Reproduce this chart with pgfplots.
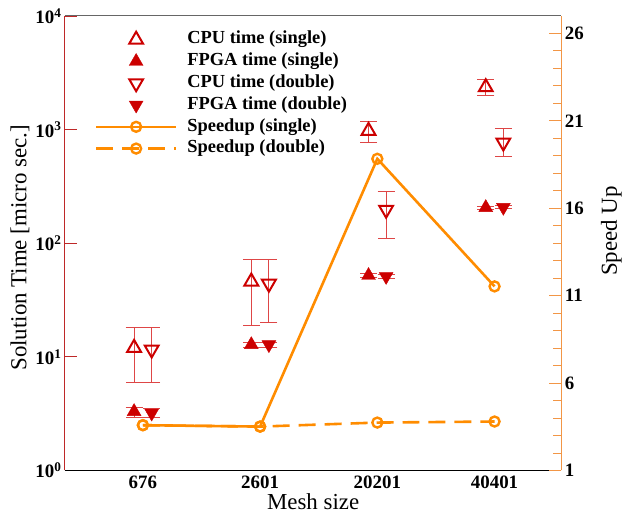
\documentclass[border=0pt]{standalone}
\usepackage{fontspec}
\setmainfont{Liberation Serif}
\usepackage{pgfplots}
\usepackage{pgfplotstable}
\pgfplotsset{compat=1.18}
\definecolor{cred}{RGB}{204,0,0}
\definecolor{corange}{RGB}{255,140,0}
\definecolor{cerr}{RGB}{222,70,70}
\definecolor{laxis}{RGB}{190,40,40}
\definecolor{raxis}{RGB}{242,150,70}

\pgfplotstableread{
x y ep em
-0.075 12 6 6
0.925 46 26 27
1.925 975 200 210
2.925 2360 415 380
}\cpus
\pgfplotstableread{
x y ep em
0.075 11.6 6.4 5.6
1.075 44 28 24
2.075 197 88 87
3.075 770 260 190
}\cpud
\pgfplotstableread{
x y ep em
-0.075 3.3 0.3 0.35
0.925 12.8 0.6 0.6
1.925 52 2 2
2.925 206 6 6
}\fpgas
\pgfplotstableread{
x y ep em
0.075 3.2 0.3 0.3
1.075 12.8 0.6 0.6
2.075 51 2 2
3.075 207 6 6
}\fpgad
\pgfplotstableread{
x y
0 3.59
1 3.51
2 18.83
3 11.53
}\spds
\pgfplotstableread{
x y
0 3.59
1 3.51
2 3.74
3 3.80
}\spdd

\pgfplotsset{
  common/.style={
    scale only axis, width=497bp, height=455bp,
    xmin=-0.665, xmax=3.57,
    tick label style={font=\bfseries\fontsize{19}{19}\selectfont, text=black},
    /pgf/number format/assume math mode=true,
    label style={font=\fontsize{23}{23}\selectfont},
    legend image code/.code={\draw[mark repeat=2,mark phase=2,#1] plot coordinates {(0bp,0bp) (40bp,0bp) (80bp,0bp)};},
  },
  errs/.style={
    error bars/.cd, y dir=both, y explicit,
    error bar style={cerr, line width=0.9bp, solid},
    error mark options={rotate=90, mark size=8.5bp, cerr, line width=0.9bp, solid},
  },
}

\begin{document}
\begin{tikzpicture}
\begin{axis}[common, name=main,
  ymode=log, ymin=1, ymax=10000, log basis y=10,
  axis x line*=bottom, axis y line*=left,
  x axis line style={black, line width=1bp},
  y axis line style={laxis, line width=1bp},
  xtick={0,1,2,3}, xticklabels={676,2601,20201,40401},
  x tick style={draw=none},
  x tick label style={yshift=-2bp},
  ytick={1,10,100,1000,10000},
  yticklabels={10\textsuperscript{0},10\textsuperscript{1},10\textsuperscript{2},10\textsuperscript{3},10\textsuperscript{4}},
  y tick style={laxis, line width=0.9bp},
  major tick length=12bp, minor tick length=7bp,
  tick align=inside,
  xlabel={Mesh size},
  xlabel style={at={(axis description cs:0.5,-0.068)}, anchor=center},
  ylabel={Solution Time [micro sec.]},
  ylabel style={at={(axis description cs:-0.0905,0.49)}, anchor=center},
  clip=false,
]
\addplot[only marks, mark=triangle, mark size=8bp, mark options={cred, line width=2bp}, errs]
  table[x=x, y=y, y error plus=ep, y error minus=em] {\cpus};
\addplot[only marks, mark=triangle*, mark size=8bp, mark options={cred, fill=cred, line width=0.4bp}, errs]
  table[x=x, y=y, y error plus=ep, y error minus=em] {\fpgas};
\addplot[only marks, mark=triangle, mark size=8bp, mark options={cred, line width=2bp, rotate=180}, errs]
  table[x=x, y=y, y error plus=ep, y error minus=em] {\cpud};
\addplot[only marks, mark=triangle*, mark size=8bp, mark options={cred, fill=cred, line width=0.4bp, rotate=180}, errs]
  table[x=x, y=y, y error plus=ep, y error minus=em] {\fpgad};
\end{axis}
\begin{axis}[common,
  ymin=1, ymax=27,
  axis x line*=top, axis y line*=right,
  x axis line style={black!60, line width=1bp},
  y axis line style={raxis, line width=1bp},
  xtick=\empty,
  ytick={1,6,11,16,21,26},
  minor y tick num=4,
  y tick style={raxis, line width=0.9bp},
  major tick length=12bp, minor tick length=8bp,
  tick align=inside,
  ylabel={Speed Up},
  ylabel style={at={(axis description cs:1.1006,0.527)}, anchor=center},
  legend style={draw=none, fill=none, at={(axis description cs:0,1)}, anchor=north west,
    xshift=30bp, yshift=-15bp, inner sep=0pt, outer sep=0pt,
    row sep=4.3bp, column sep=10bp,
    font=\bfseries\fontsize{18.5}{18.5}\selectfont,
    nodes={inner sep=0pt, text height=13bp, text depth=4.5bp}},
  legend cell align=left,
  clip=false,
]
\addlegendimage{only marks, mark=triangle, mark size=8bp, mark options={cred, line width=2bp}}
\addlegendentry{CPU time (single)}
\addlegendimage{only marks, mark=triangle*, mark size=8bp, mark options={cred, fill=cred, line width=0.4bp}}
\addlegendentry{FPGA time (single)}
\addlegendimage{only marks, mark=triangle, mark size=8bp, mark options={cred, line width=2bp, rotate=180}}
\addlegendentry{CPU time (double)}
\addlegendimage{only marks, mark=triangle*, mark size=8bp, mark options={cred, fill=cred, line width=0.4bp, rotate=180}}
\addlegendentry{FPGA time (double)}
\addplot[corange, line width=2.6bp, mark=o, mark size=5bp, mark options={solid, fill=white, line width=2.4bp}]
  table[x=x, y=y] {\spds};
\addlegendentry{Speedup (single)}
\addplot[corange, line width=2.6bp, dash pattern=on 17bp off 9bp, mark=o, mark size=5bp, mark options={solid, fill=white, line width=2.4bp}]
  table[x=x, y=y] {\spdd};
\addlegendentry{Speedup (double)}
\end{axis}
\path (main.south west) ++(-65bp,-44bp) rectangle ++(625bp,515bp);
\end{tikzpicture}
\end{document}
